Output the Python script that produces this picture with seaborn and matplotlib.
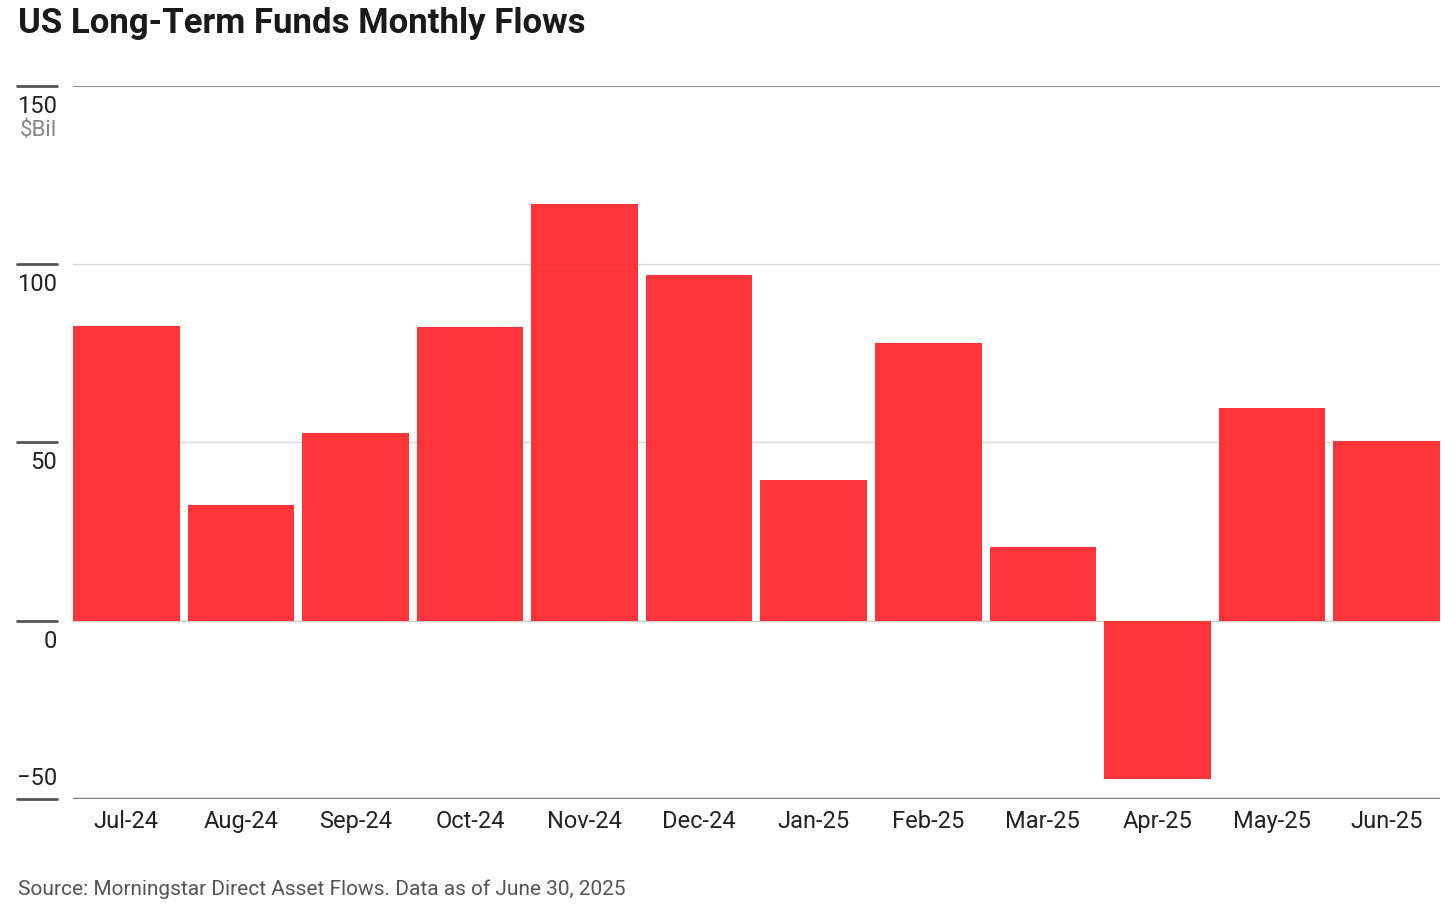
import matplotlib
matplotlib.use("Agg")
import matplotlib.pyplot as plt
import matplotlib.transforms as mtransforms
import seaborn as sns
import pandas as pd

months = ["Jul-24", "Aug-24", "Sep-24", "Oct-24", "Nov-24", "Dec-24",
          "Jan-25", "Feb-25", "Mar-25", "Apr-25", "May-25", "Jun-25"]
flows = [82.7, 32.5, 52.7, 82.4, 116.9, 97.0, 39.5, 77.9, 20.7, -44.3, 59.7, 50.5]
y_ticks = [-50, 0, 50, 100, 150]
y_labels = ["\u221250", "0", "50", "100", "150"]

df = pd.DataFrame({"Month": months, "Flows": flows})

sns.set_style("white")
plt.rcParams["font.family"] = ["Roboto", "DejaVu Sans"]

fig = plt.figure(figsize=(14.56, 9.17), dpi=100)
ax = fig.add_axes([0.0501, 0.1287, 0.9389, 0.7775])

# light gridlines first so bars sit over them
for v in [50, 100]:
    ax.axhline(v, color="#d9d9d9", lw=1, zorder=0)
ax.axhline(0, color="#cccccc", lw=1, zorder=0)

bar_w = 0.93
sns.barplot(data=df, x="Month", y="Flows", color="#ff2a2f", saturation=1,
            width=bar_w, alpha=0.95, linewidth=0, ax=ax, zorder=2)

ax.axhline(150, color="#8c8c8c", lw=1.5, zorder=3)
ax.axhline(-50, color="#808080", lw=2.5, zorder=3)

ax.set_ylim(-50, 150)
# first and last bars touch the plot edges
ax.set_xlim(-bar_w / 2, len(months) - 1 + bar_w / 2)
for s in ax.spines.values():
    s.set_visible(False)
ax.set_yticks([])
ax.set_xlabel("")
ax.set_ylabel("")
ax.tick_params(axis="x", length=0, pad=8, labelsize=17, labelcolor="#222222")

# y tick marks and labels sit left of the plot area
trans = mtransforms.blended_transform_factory(fig.transFigure, ax.transData)
for v, lab in zip(y_ticks, y_labels):
    ax.plot([17 / 1456, 57 / 1456], [v, v], color="#555555", lw=2,
            transform=trans, clip_on=False)
    if v == -50:
        ax.text(57 / 1456, v + 2.5, lab, transform=trans, ha="right", va="bottom",
                fontsize=17, color="#222222")
    else:
        ax.text(57 / 1456, v - 2.5, lab, transform=trans, ha="right", va="top",
                fontsize=17, color="#222222")
ax.text(57 / 1456, 150 - 9.5, "$Bil", transform=trans, ha="right", va="top",
        fontsize=16, color="#888888")

fig.text(18 / 1456, 1 - 24 / 917, "US Long-Term Funds Monthly Flows",
         ha="left", va="center", fontsize=25, fontweight="bold", color="#1a1a1a")
fig.text(18 / 1456, 1 - 889 / 917,
         "Source: Morningstar Direct Asset Flows. Data as of June 30, 2025",
         ha="left", va="center", fontsize=15, color="#555555")

fig.savefig("out.png", dpi=100)
